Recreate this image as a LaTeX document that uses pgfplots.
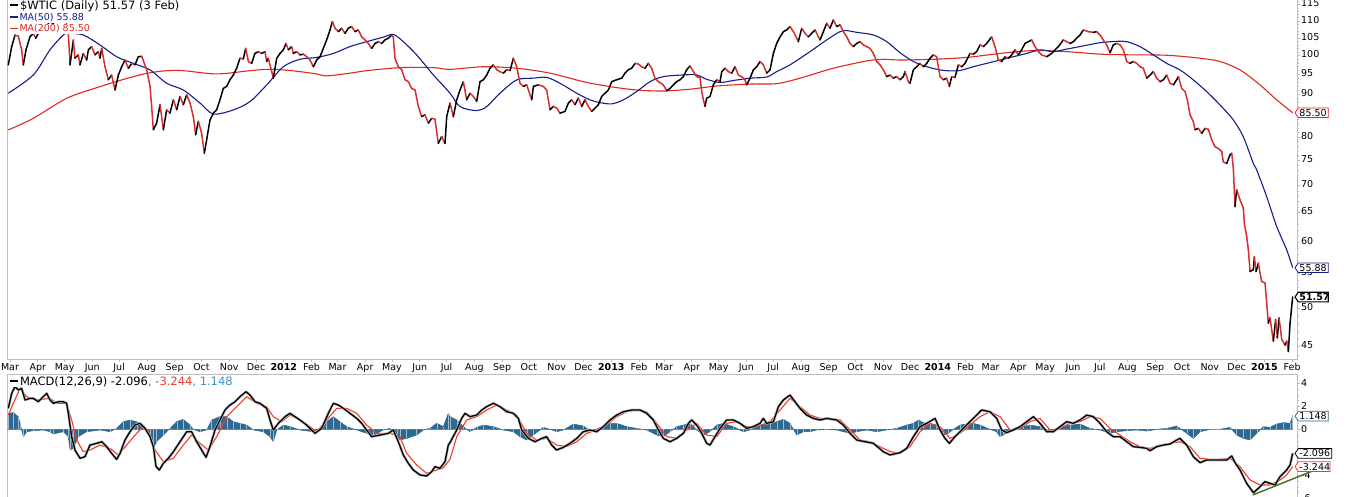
\documentclass[border=0pt]{standalone}
\usepackage{fontspec}
\setmainfont{DejaVu Sans}
\usepackage{pgfplots}
\pgfplotsset{compat=1.18}
\definecolor{pricered}{RGB}{215,45,45}
\definecolor{mared}{RGB}{225,40,30}
\definecolor{mablue}{RGB}{20,30,140}
\definecolor{sigred}{RGB}{240,60,40}
\definecolor{histblue}{RGB}{45,105,145}
\definecolor{histtext}{RGB}{60,145,200}
\definecolor{trendgreen}{RGB}{80,115,40}
\definecolor{axisgray}{RGB}{190,190,190}
\newcommand{\fa}{\fontsize{11.5}{13}\selectfont}
\newcommand{\fb}{\fontsize{9.5}{11}\selectfont}
\begin{document}
\begin{tikzpicture}
% ---------------- price panel ----------------
\begin{axis}[
  at={(7.5pt,136.7pt)}, anchor=south west, scale only axis,
  width=1290pt, height=360.3pt,
  xmin=-2.8, xmax=1439, ymode=log, ymin=43.47, ymax=116.81,
  axis line style={draw=axisgray, line width=0.8pt},
  tick align=outside, major tick length=2.5pt, minor tick length=1.3pt,
  tick style={draw=axisgray, line width=0.6pt},
  xtick pos=left, ytick pos=right, yticklabel pos=right,
  ytick={45,50,55,60,65,70,75,80,85,90,95,100,105,110,115},
  yticklabels={45,50,55,60,65,70,75,80,,90,95,100,105,110,115},
  minor ytick={44,45,...,116},
  yticklabel style={font=\fb, inner sep=1pt},
  xtick={0,31,61,92,122,153,184,214,245,275,306,337,366,397,427,458,488,519,550,580,611,641,672,703,731,762,792,823,853,884,915,945,976,1006,1037,1068,1096,1127,1157,1188,1218,1249,1280,1310,1341,1371,1402,1433},
  xticklabels={Mar,Apr,May,Jun,Jul,Aug,Sep,Oct,Nov,Dec,\textbf{2012},Feb,Mar,Apr,May,Jun,Jul,Aug,Sep,Oct,Nov,Dec,\textbf{2013},Feb,Mar,Apr,May,Jun,Jul,Aug,Sep,Oct,Nov,Dec,\textbf{2014},Feb,Mar,Apr,May,Jun,Jul,Aug,Sep,Oct,Nov,Dec,\textbf{2015},Feb},
  xticklabel style={font=\fb, inner sep=1pt},
  typeset ticklabels with strut,
  colormap={pc}{color=(pricered) color=(black)},
  point meta min=0, point meta max=1,
]
% MA(200)
\addplot[mared, line width=1.1pt, smooth] table {
-1.9 81.56
26.1 84.2
63.3 88.95
100.6 91.85
137.8 94.4
156.5 95.4
175.1 95.95
193.7 95.95
231.0 95.1
268.2 95.95
286.9 96.3
305.5 96.15
324.1 95.7
342.8 95.1
353.9 94.6
380.0 95.3
398.6 95.95
435.9 96.75
473.2 96.75
491.8 96.3
529.1 97.0
566.3 96.6
603.6 95.3
640.8 93.1
670.6 91.85
700.4 91.0
730.2 90.75
760.0 91.2
789.9 92.0
827.1 92.5
856.9 92.6
883.0 94.0
920.3 96.6
957.5 98.55
976.1 99.0
994.8 98.8
1032.0 99.0
1069.3 99.5
1106.5 100.6
1143.8 101.4
1181.0 101.1
1218.3 100.4
1255.6 100.2
1292.8 100.1
1330.1 99.3
1352.4 98.4
1374.8 96.15
1397.1 92.27
1415.8 88.56
1433.6 85.50
};
% MA(50)
\addplot[mablue, line width=1.1pt, smooth] table {
-1.9 90.2
26.1 94.84
44.7 101.6
59.6 105.83
65.2 106.3
81.9 105.83
100.6 102.97
119.2 99.7
137.8 97.9
156.5 96.15
175.1 92.7
193.7 91.0
212.4 87.8
227.3 85.2
249.6 86.16
268.2 88.15
286.9 92.27
305.5 97.0
324.1 99.0
342.8 99.5
361.4 100.6
380.0 102.5
398.6 103.9
417.3 105.2
428.4 106.0
439.6 103.9
454.5 100.2
473.2 94.84
491.8 90.2
503.0 86.95
521.6 86.0
532.8 86.95
547.7 90.2
566.3 93.55
584.9 94.0
599.8 94.2
614.7 92.7
633.4 90.2
648.3 88.56
659.5 87.9
672.5 87.6
685.5 88.56
700.4 90.6
715.3 93.1
730.2 94.4
752.6 94.84
767.5 94.84
778.7 93.7
793.6 92.9
808.5 93.4
827.1 94.0
845.8 94.3
856.9 95.7
871.8 97.5
894.2 101.1
912.8 104.4
927.7 106.8
935.2 107.1
946.3 106.6
965.0 105.83
979.9 103.9
994.8 100.8
1009.7 98.4
1024.6 97.0
1039.5 96.15
1050.6 95.9
1061.8 96.0
1076.7 97.0
1091.6 97.9
1106.5 98.8
1121.4 99.7
1136.3 100.6
1151.2 101.6
1166.1 101.1
1181.0 101.8
1199.7 102.7
1218.3 103.6
1236.9 104.0
1248.1 103.9
1263.0 102.5
1277.9 100.2
1292.8 97.9
1307.7 96.15
1322.6 93.55
1337.5 90.6
1352.4 87.35
1367.3 83.83
1378.5 80.0
1389.7 74.4
1393.4 73.09
1404.6 67.9
1415.7 62.6
1426.9 58.7
1433.6 55.88
};
% price, black on up segments, red on down segments
\addplot[mesh, shader=flat corner, line width=1.5pt, line join=round, line cap=round, point meta=\thisrow{c}] table[x=d, y=p] {
d p c
-1.9 97.5 1
1.9 102.5 1
5.6 105.8 0
9.3 105.5 0
13.0 101.6 0
14.9 97.5 1
17.9 101.6 1
22.3 105.3 1
26.1 106.3 0
28.7 104.9 1
31.7 106.3 1
36 108.0 0
40 107.0 1
44 110.0 0
48 109.0 1
52 111.5 1
56 112.0 1
59 113.9 0
62 111.0 0
65.2 106.3 0
67.1 97.5 1
70.8 104.4 0
72.6 99.3 1
76.4 100.2 0
78.2 97.5 1
82.0 100.6 0
85.7 98.8 1
87.6 101.6 1
91.3 102.5 0
95.0 100.2 1
98.7 101.1 0
100.6 99.3 1
102.5 102.0 0
106.2 97.0 0
109.9 93.6 1
113.6 94.8 0
117.4 91.0 1
121.1 94.8 1
124.8 97.0 1
128.5 98.8 0
132.3 96.6 1
136.0 97.9 0
139.7 97.5 1
143.4 99.7 1
147.2 99.8 0
152.8 96.2 0
156.5 91.9 0
158.3 87.0 0
160.2 81.6 1
163.9 83.1 1
167.7 87.4 0
171.4 81.6 1
175.1 86.2 0
178.8 85.4 1
182.6 88.6 0
186.3 86.2 1
190.0 89.4 0
193.7 87.4 1
197.5 89.8 0
201.2 87.8 0
204.9 84.6 0
207.5 80.5 1
210.5 83.5 0
214.2 80.8 0
217.2 76.5 1
219.8 79.4 1
223.5 83.8 1
227.3 85.4 1
231.0 86.2 1
234.7 88.6 1
238.4 91.4 1
242.2 91.9 1
245.9 93.6 1
249.6 94.8 1
253.3 96.6 1
257.1 99.3 0
260.8 99.1 1
263.4 102.0 0
266.4 98.4 0
270.1 97.9 1
273.8 100.6 1
277.6 101.1 0
281.3 100.6 1
285.0 101.1 0
286.9 98.4 1
288.7 99.3 0
292.5 95.7 0
294.3 94.0 1
298.1 99.3 1
301.8 100.6 1
305.5 101.6 1
308.5 103.4 0
311.1 101.6 1
314.8 102.5 0
316.7 100.6 1
320.4 101.1 0
324.1 100.2 1
327.9 100.4 0
331.6 99.7 0
335.3 98.8 0
339.0 97.0 1
342.8 98.8 1
346.5 99.7 1
350.2 102.0 1
353.9 104.4 1
357.7 107.3 1
360.3 109.8 0
363.3 107.8 0
367.0 106.8 1
370.7 107.8 0
374.4 106.3 1
378.2 107.8 1
381.9 108.3 0
385.6 106.8 1
389.3 107.3 0
393.1 105.3 0
396.8 104.4 0
400.5 103.4 0
404.2 102.0 1
408.0 103.4 1
411.7 103.9 0
415.4 103.4 1
419.1 104.4 1
422.9 104.9 1
426.6 105.8 0
428.4 105.3 0
430.3 99.3 0
434.0 97.0 0
437.8 96.2 0
441.5 93.6 0
445.2 93.1 0
448.9 91.4 0
452.7 91.0 0
456.4 87.0 0
460.1 84.6 1
463.8 85.0 0
467.6 83.1 1
471.3 84.2 0
475.0 84.0 0
478.7 78.6 1
482.5 80.1 0
486.2 78.6 1
488.1 84.6 1
491.8 87.8 0
495.5 84.6 1
499.3 88.6 1
503.0 91.0 1
506.7 93.1 0
510.4 88.6 1
514.2 90.2 0
517.9 89.4 0
521.6 88.2 1
525.3 93.1 1
529.1 93.6 1
532.8 94.8 1
536.5 96.6 1
540.2 97.5 0
544.0 96.2 0
547.7 95.7 0
551.4 95.3 1
555.1 96.2 0
558.9 96.0 1
562.6 99.3 0
566.3 97.0 0
570.0 92.7 0
573.8 91.9 1
577.5 92.3 0
583.1 88.6 1
585.0 91.9 1
590.5 92.3 0
596.1 91.9 0
599.8 91.0 0
603.6 86.2 1
607.3 87.0 0
611.0 86.6 0
614.7 85.4 1
620.3 85.8 1
624.1 87.8 1
627.8 88.6 0
631.5 87.4 1
635.2 89.0 0
639.0 87.0 1
642.7 88.6 0
646.4 87.0 0
650.1 85.8 1
653.9 86.6 1
657.6 87.4 1
661.3 89.4 1
665.0 90.2 1
668.8 91.0 1
672.5 93.1 1
678.1 93.6 1
683.7 94.0 1
687.4 95.3 1
691.1 96.2 1
694.9 96.6 1
698.6 97.9 0
702.3 97.7 0
706.0 97.0 0
709.8 96.6 1
713.5 97.9 0
717.2 96.6 0
720.9 94.0 0
724.7 93.1 0
730.2 92.3 0
734.0 90.8 1
737.7 91.4 1
741.4 92.3 1
745.1 93.1 1
748.9 93.6 1
752.6 94.4 1
756.3 96.2 1
760.0 97.2 0
763.8 95.7 0
767.5 94.4 0
771.2 94.2 0
773.1 90.6 0
775.0 88.6 0
776.8 87.0 1
778.7 89.0 1
782.4 89.4 1
786.1 92.3 1
789.9 93.6 0
793.6 93.1 1
795.5 95.7 1
799.2 96.6 0
802.9 95.7 0
806.6 95.3 1
810.4 97.0 0
814.1 94.8 0
817.8 94.4 0
821.5 93.6 0
823.4 92.3 1
827.1 94.0 1
830.9 96.2 1
834.6 97.0 1
838.3 98.4 0
842.0 97.5 0
845.8 95.3 1
849.5 96.2 1
853.2 100.6 1
856.9 103.4 1
860.7 105.3 1
864.4 106.8 1
868.1 107.3 1
871.8 108.3 0
875.6 106.8 0
879.3 104.9 0
881.1 103.9 1
884.9 107.8 0
888.6 106.3 0
892.3 105.3 1
896.0 106.3 1
899.8 107.3 0
903.5 105.3 0
905.4 104.4 1
909.1 106.8 1
912.8 109.3 0
916.5 107.8 1
920.3 110.3 0
924.0 108.3 1
927.7 108.8 0
931.4 106.8 0
935.2 105.3 0
938.9 103.4 0
942.6 102.5 1
946.3 103.4 1
950.1 103.9 0
953.8 103.0 0
957.5 102.5 0
961.2 102.0 0
965.0 100.6 0
968.7 98.4 0
972.4 97.5 0
976.1 96.2 0
979.9 94.4 1
983.6 94.8 0
987.3 94.0 1
991.0 94.4 0
994.8 93.6 1
998.5 94.4 1
1000.3 95.7 0
1004.1 93.1 0
1005.9 92.7 1
1009.7 96.2 1
1013.4 97.0 1
1017.1 97.9 0
1020.8 97.0 1
1024.6 97.9 1
1028.3 99.3 1
1032.0 100.2 0
1035.7 99.7 0
1039.5 94.4 0
1043.2 93.6 1
1046.9 94.0 0
1049.9 91.9 1
1052.5 94.4 0
1056.2 94.2 1
1060.0 97.5 0
1063.7 97.0 1
1067.4 97.9 1
1073.0 100.6 0
1076.7 100.4 1
1080.4 101.1 1
1084.2 103.0 0
1087.9 102.5 1
1091.6 103.4 1
1097.2 105.3 0
1100.9 102.5 0
1104.7 98.8 0
1108.4 98.4 1
1112.1 99.7 0
1115.8 99.3 1
1119.6 100.2 1
1123.3 101.6 0
1127.0 100.2 1
1130.7 101.6 1
1134.5 103.4 1
1138.2 103.9 1
1141.9 104.4 0
1145.6 102.5 0
1149.4 101.1 0
1153.1 100.2 0
1158.7 99.7 1
1164.3 100.6 1
1168.0 101.6 1
1171.7 102.5 1
1177.3 104.4 0
1181.0 103.9 0
1184.8 103.4 1
1188.5 103.9 1
1192.2 104.9 1
1195.9 105.8 1
1199.7 107.3 0
1205.3 106.8 0
1210.8 106.6 1
1214.6 106.8 0
1218.3 105.8 0
1222.0 104.4 0
1225.7 103.0 0
1229.5 100.8 1
1233.2 103.0 1
1236.9 103.4 0
1240.7 103.0 0
1244.4 101.6 0
1248.1 98.4 0
1251.8 97.9 1
1255.6 98.4 0
1259.3 97.9 0
1263.0 97.0 0
1266.7 96.6 0
1270.5 94.0 1
1274.2 94.8 1
1277.9 95.7 0
1281.6 94.0 0
1285.4 93.1 1
1289.1 93.6 1
1292.8 94.8 0
1296.5 92.7 0
1300.3 92.3 1
1304.0 93.6 1
1305.9 94.4 0
1309.6 91.4 0
1313.3 90.6 0
1315.9 88.6 0
1318.9 85.0 0
1322.6 83.4 0
1324.5 81.6 1
1328.2 81.9 0
1332.0 80.8 1
1335.7 81.9 0
1339.4 81.7 0
1343.1 79.4 0
1346.8 77.9 0
1350.6 77.5 0
1354.3 76.9 0
1356.1 74.7 0
1359.9 74.4 1
1363.6 76.2 1
1365.5 76.5 0
1367.3 73.4 0
1369.2 66.1 1
1371.0 69.2 0
1374.8 67.3 0
1378.5 65.8 0
1379.6 63.1 0
1382.2 60.9 0
1384.1 58.7 0
1386.0 55.3 1
1389.7 55.6 1
1390.8 57.6 0
1392.7 55.3 1
1395.3 56.6 0
1397.1 55.1 0
1399.0 53.8 0
1402.7 53.6 0
1404.6 50.7 0
1406.4 48.0 1
1408.3 48.7 0
1410.2 47.1 0
1412.0 45.7 1
1414.6 48.5 0
1416.5 46.1 1
1418.4 48.7 0
1421.4 45.9 0
1425.1 45.2 1
1427.0 45.7 0
1428.8 44.4 1
1430.7 48.0 1
1433.6 51.57 0
};
\coordinate (tagA) at (axis cs:1436.2,85.50);
\coordinate (tagB) at (axis cs:1436.2,55.88);
\coordinate (tagC) at (axis cs:1436.2,51.57);
\end{axis}
% ---------------- MACD panel ----------------
\pgfplotstableread{
-2.8 1.39
-1.9 1.39
3.7 1.45
9.3 1.10
11.2 0.52
14.9 -0.64
18.6 -0.21
26.1 -0.12
37.3 -0.06
44.7 -0.21
48.4 -0.41
59.6 -0.21
65.2 -0.64
67.1 -1.80
70.8 -1.66
76.4 -0.64
85.7 -0.21
100.6 -0.06
111.8 -0.21
119.2 0.08
126.7 0.66
134.1 0.81
141.6 0.66
149.0 0.37
156.5 -0.50
160.2 -1.66
163.9 -1.08
171.4 -0.50
178.8 0.08
186.3 0.66
193.7 0.87
201.2 0.37
204.9 0.0
212.4 -0.21
219.8 -0.06
225.4 0.81
234.7 1.10
242.2 1.10
249.6 0.66
257.1 0.52
264.5 0.37
272.0 -0.06
283.1 -0.21
290.6 -0.64
294.3 -1.08
298.1 -0.06
305.5 0.37
313.0 0.23
324.1 -0.06
339.0 -0.21
346.5 0.08
353.9 0.66
361.4 1.10
368.8 0.66
376.3 0.23
387.5 -0.06
398.6 -0.35
406.1 -0.50
417.3 -0.06
424.7 0.08
432.2 -0.50
435.9 -0.93
443.3 -0.79
454.5 -0.50
462.0 -0.06
469.4 0.08
476.9 0.52
484.3 0.23
489.9 1.39
491.8 1.10
499.3 0.81
506.7 0.23
514.2 -0.21
521.6 0.17
529.1 0.37
540.2 0.23
551.4 -0.06
562.6 -0.21
570.0 -0.64
577.5 -0.93
584.9 -0.50
596.1 0.17
603.6 0.0
611.0 -0.21
618.5 -0.06
629.7 0.46
640.8 0.29
648.3 -0.12
655.7 0.0
663.2 0.29
670.6 0.52
678.1 0.52
689.3 0.23
700.4 0.08
711.6 -0.06
722.8 -0.50
730.2 -0.64
737.7 -0.21
745.1 0.23
752.6 0.37
760.0 0.52
767.5 -0.06
775.0 -0.50
782.4 -0.21
789.9 0.37
797.3 0.52
808.5 0.23
819.7 -0.21
827.1 -0.06
838.3 0.37
849.5 0.46
856.9 0.66
864.4 0.87
871.8 0.52
879.3 -0.50
886.7 -0.21
894.2 -0.21
901.6 -0.06
912.8 0.0
924.0 -0.06
938.9 -0.35
946.3 -0.21
957.5 -0.06
968.7 -0.21
979.9 -0.06
991.0 0.08
1002.2 0.37
1009.7 0.52
1015.2 0.81
1020.8 0.58
1028.3 0.46
1035.7 0.37
1039.5 0.0
1043.2 -0.50
1048.8 -0.35
1054.4 0.0
1061.8 0.37
1069.3 0.46
1076.7 0.52
1084.2 0.37
1095.3 0.0
1102.8 -0.21
1106.5 -0.64
1110.3 -0.50
1117.7 -0.06
1125.2 0.17
1132.6 0.23
1140.0 0.37
1151.2 0.23
1158.7 -0.21
1166.1 -0.21
1173.6 0.17
1184.8 0.37
1196.0 0.46
1207.1 0.08
1218.3 -0.06
1229.5 -0.35
1236.9 -0.21
1248.1 -0.12
1259.3 -0.06
1270.5 -0.15
1281.6 0.0
1292.8 0.08
1304.0 0.29
1315.2 -0.35
1322.6 -0.79
1330.1 -0.21
1341.2 0.0
1352.4 0.0
1363.6 0.17
1371.0 -0.50
1378.5 -0.79
1386.0 -0.93
1393.4 -0.35
1400.8 0.23
1408.3 0.17
1415.7 0.46
1423.2 0.58
1430.7 0.52
1433.6 1.148
}\histtab
\begin{axis}[
  at={(7.5pt,-4.6pt)}, anchor=south west, scale only axis,
  width=1290pt, height=126.3pt,
  xmin=-2.8, xmax=1439, ymin=-6.2, ymax=4.783,
  clip=false,
  axis line style={draw=axisgray, line width=0.8pt},
  tick align=outside, major tick length=2.5pt, minor tick length=1.3pt,
  tick style={draw=axisgray, line width=0.6pt},
  xtick=\empty, ytick pos=right, yticklabel pos=right,
  ytick={-6,-4,-2,0,2,4}, yticklabels={-6,-4,,0,2,4},
  minor y tick num=3,
  yticklabel style={font=\fb, inner sep=1pt},
]
% histogram
\addplot[fill=histblue, draw=histblue, line width=0.5pt] table {\histtab} \closedcycle;
\addplot[ycomb, draw=histblue!45!white, line width=0.35pt] table {\histtab};
% signal line
\addplot[sigred, line width=1.1pt] table {
-1.9 1.24
3.7 2.26
11.2 3.56
18.6 2.84
29.8 2.55
44.7 2.69
52.2 2.26
63.3 2.26
68.9 0.81
74.5 -0.93
81.9 -1.94
89.4 -1.80
100.6 -1.37
111.8 -1.66
121.1 -2.23
130.4 -1.37
141.6 -0.35
149.0 0.23
154.6 -0.06
162.1 -1.80
171.4 -2.81
182.6 -2.52
193.7 -1.37
203.0 -0.50
212.4 -1.22
221.7 -1.80
231.0 -0.64
242.2 1.10
253.3 1.97
264.5 2.84
275.7 2.26
286.9 1.97
294.3 1.10
303.6 0.66
313.0 1.24
324.1 0.81
335.3 0.23
342.8 -0.21
353.9 0.81
365.1 1.82
376.3 1.82
387.5 1.39
398.6 0.37
409.8 -0.35
424.7 -0.35
435.9 -0.64
443.3 -2.09
454.5 -3.10
465.7 -3.83
476.9 -3.54
484.3 -3.35
491.8 -2.60
499.3 -0.64
510.4 0.81
521.6 1.10
532.8 1.68
544.0 2.11
555.1 1.68
566.3 1.24
577.5 -0.35
588.7 -0.93
599.8 -0.79
611.0 -1.37
622.2 -1.51
633.4 -1.08
644.6 -0.35
655.7 -0.06
666.9 0.37
678.1 1.10
689.3 1.53
700.4 1.68
711.6 1.53
722.8 0.52
734.0 -0.64
745.1 -0.79
756.3 -0.06
767.5 0.52
778.7 -0.50
789.9 -0.64
801.0 0.52
812.2 0.66
823.4 0.23
834.6 0.23
849.5 0.66
860.7 1.68
871.8 2.69
883.0 1.97
894.2 1.24
905.4 0.95
916.5 0.95
927.7 0.81
938.9 -0.06
950.1 -0.93
961.2 -1.08
972.4 -1.51
983.6 -1.94
994.8 -2.09
1005.9 -1.51
1017.1 -0.21
1028.3 0.52
1039.5 0.23
1050.6 -0.79
1061.8 -0.35
1073.0 0.37
1084.2 1.10
1095.3 1.53
1106.5 1.10
1117.7 -0.06
1128.9 0.08
1140.0 0.66
1151.2 0.95
1162.4 -0.06
1173.6 0.08
1184.8 0.52
1196.0 0.66
1207.1 1.10
1218.3 0.95
1229.5 0.08
1240.7 -0.50
1251.8 -1.08
1263.0 -1.51
1274.2 -1.66
1285.4 -1.37
1296.5 -1.22
1307.7 -1.08
1318.9 -1.51
1330.1 -2.52
1341.2 -2.61
1352.4 -2.61
1363.6 -2.52
1374.8 -3.25
1386.0 -4.41
1397.1 -4.84
1408.3 -4.84
1419.5 -4.41
1426.9 -3.97
1433.6 -3.244
};
% MACD line with grey halo
\pgfplotstableread{
-1.9 1.82
1.9 3.13
5.6 3.71
9.3 3.42
13.0 3.56
16.8 2.55
22.3 2.69
26.1 2.69
31.7 2.40
37.3 2.84
41.0 3.13
44.7 2.55
48.4 2.26
54.0 2.40
59.6 2.40
63.3 2.26
65.2 1.39
68.9 -0.64
72.6 -1.80
78.2 -2.52
83.8 -2.38
89.4 -1.37
96.9 -1.22
102.5 -1.08
108.0 -1.51
113.6 -2.09
119.2 -2.61
123.0 -2.09
128.5 -0.93
134.1 -0.21
139.7 0.37
145.3 0.52
150.9 0.08
156.5 -0.64
160.2 -1.51
163.2 -3.24
166.9 -3.54
171.4 -2.96
177.0 -2.52
182.6 -1.95
190.0 -1.08
197.5 -0.21
203.0 -0.21
208.6 -1.08
214.2 -1.80
219.1 -2.44
223.5 -1.51
229.1 -0.06
234.7 0.81
240.3 1.68
245.9 2.11
251.5 2.40
257.1 2.84
263.8 3.27
268.2 2.98
273.8 2.40
279.4 2.26
286.9 1.82
290.6 0.81
294.3 -0.06
299.9 0.52
307.4 1.10
313.0 1.39
318.5 1.10
324.1 0.81
331.6 0.37
340.9 -0.35
348.3 0.08
355.8 1.39
361.4 2.26
367.0 2.11
372.6 1.82
380.0 1.39
387.5 0.95
393.1 0.52
398.6 -0.06
404.2 -0.64
413.6 -0.50
422.9 -0.35
428.4 -0.06
434.0 -1.08
439.6 -2.23
445.2 -2.96
450.8 -3.54
458.3 -3.97
465.7 -4.06
471.3 -3.68
475.0 -3.25
480.6 -3.39
486.2 -2.81
489.9 -1.37
491.8 -1.15
499.3 -0.06
504.8 0.95
508.6 1.39
514.2 1.10
521.6 1.24
527.2 1.68
532.8 1.97
540.2 2.26
547.7 1.97
555.1 1.53
562.6 1.39
568.2 0.95
571.9 -0.06
579.4 -0.79
586.8 -1.08
594.3 -0.79
599.8 -0.64
605.4 -1.37
611.0 -1.80
618.5 -1.57
625.9 -1.22
633.4 -0.79
640.8 -0.21
648.3 -0.06
655.7 -0.21
663.2 0.23
670.6 0.81
678.1 1.24
685.5 1.53
694.9 1.68
704.2 1.68
711.6 1.39
719.1 0.81
724.7 -0.06
730.2 -0.79
737.7 -1.08
745.1 -0.79
752.6 -0.35
758.2 0.52
761.9 0.81
767.5 0.37
773.1 -0.35
778.7 -1.22
782.4 -1.37
788.0 -0.64
793.6 0.08
801.0 0.81
808.5 0.81
815.9 0.52
823.4 0.08
830.8 0.23
838.3 0.52
842.0 0.95
845.7 0.52
853.2 0.66
858.8 1.97
864.4 2.55
871.8 2.98
877.4 2.40
883.0 1.82
890.4 1.24
897.9 0.95
905.4 0.81
912.8 0.95
924.0 0.81
931.4 0.37
938.9 -0.35
946.3 -0.93
955.7 -1.08
965.0 -1.22
976.1 -1.95
983.6 -2.23
994.8 -2.03
1002.2 -1.66
1009.7 -0.64
1017.1 0.23
1024.6 0.52
1033.9 0.95
1039.5 -0.06
1045.0 -0.79
1049.9 -1.22
1056.2 -0.64
1063.7 -0.06
1071.1 0.52
1078.6 1.10
1086.0 1.68
1095.3 1.53
1102.8 0.95
1108.4 -0.06
1114.0 -0.29
1121.4 -0.06
1128.9 0.23
1136.3 0.66
1143.8 1.10
1151.2 0.52
1158.7 -0.21
1166.1 -0.21
1173.6 0.23
1181.0 0.66
1188.5 0.52
1196.0 0.81
1203.4 1.24
1210.8 1.10
1218.3 0.52
1225.7 -0.21
1233.2 -0.64
1240.7 -0.64
1248.1 -1.08
1255.6 -1.51
1263.0 -1.57
1270.5 -1.66
1274.2 -1.86
1281.6 -1.51
1289.1 -1.37
1296.5 -1.28
1304.0 -0.93
1307.7 -0.79
1315.2 -1.37
1322.6 -2.38
1330.1 -2.90
1337.5 -2.67
1345.0 -2.67
1352.4 -2.67
1359.9 -2.67
1365.5 -2.32
1369.2 -2.90
1374.8 -3.54
1382.2 -4.70
1389.7 -5.51
1395.3 -5.13
1402.7 -4.55
1408.3 -4.70
1413.9 -4.84
1419.5 -4.12
1426.9 -3.54
1430.7 -3.10
1433.6 -2.096
}\macdtab
\addplot[black!28, line width=2.6pt, line join=round] table {\macdtab};
\addplot[black, line width=1.3pt, line join=round] table {\macdtab};
% trend line
\addplot[trendgreen, line width=1.5pt] coordinates {(1389,-5.71) (1458.6,-3.54)};
\coordinate (tagD) at (axis cs:1436.2,1.148);
\coordinate (tagE) at (axis cs:1436.2,-2.096);
\coordinate (tagF) at (axis cs:1436.2,-3.244);
\end{axis}
% ---------------- value tags ----------------
\draw[mared, line width=0.8pt, fill=white] (tagA) -- ++(3.3pt,4.8pt) -- ++(30pt,0) -- ++(0,-9.6pt) -- ++(-30pt,0) -- cycle;
\node[anchor=west, inner sep=0pt, font=\fb] at ([xshift=4.3pt]tagA) {85.50};
\draw[mablue, line width=0.8pt, fill=white] (tagB) -- ++(3.3pt,4.8pt) -- ++(30pt,0) -- ++(0,-9.6pt) -- ++(-30pt,0) -- cycle;
\node[anchor=west, inner sep=0pt, font=\fb] at ([xshift=4.3pt]tagB) {55.88};
\draw[black, line width=1.1pt, fill=white] (tagC) -- ++(3.3pt,4.8pt) -- ++(30pt,0) -- ++(0,-9.6pt) -- ++(-30pt,0) -- cycle;
\node[anchor=west, inner sep=0pt, font=\fb\bfseries] at ([xshift=4.3pt]tagC) {51.57};
\draw[histtext!70!black, line width=0.8pt, fill=white] (tagD) -- ++(3.3pt,4.8pt) -- ++(30pt,0) -- ++(0,-9.6pt) -- ++(-30pt,0) -- cycle;
\node[anchor=west, inner sep=0pt, font=\fb] at ([xshift=4.3pt]tagD) {1.148};
\draw[black, line width=0.8pt, fill=white] (tagE) -- ++(3.3pt,4.8pt) -- ++(33.4pt,0) -- ++(0,-9.6pt) -- ++(-33.4pt,0) -- cycle;
\node[anchor=west, inner sep=0pt, font=\fb] at ([xshift=4.3pt]tagE) {-2.096};
\draw[sigred, line width=0.8pt, fill=white] (tagF) -- ++(3.3pt,4.8pt) -- ++(31.7pt,0) -- ++(0,-9.6pt) -- ++(-31.7pt,0) -- cycle;
\node[anchor=west, inner sep=0pt, font=\fb] at ([xshift=4.3pt]tagF) {-3.244};
% ---------------- legends ----------------
\node[anchor=west, fill=white, inner sep=0.8pt, font=\fa] at (9pt,490pt)
  {\textcolor{black}{\rule[0.28em]{8pt}{1.6pt}}\hspace{2pt}\$WTIC (Daily) 51.57 (3 Feb)};
\node[anchor=west, fill=white, inner sep=0.8pt, font=\fb, text=mablue] at (9pt,478.5pt)
  {\rule[0.28em]{8pt}{1.6pt}\hspace{1.5pt}MA(50) 55.88};
\node[anchor=west, fill=white, inner sep=0.8pt, font=\fb, text=mared] at (9pt,467pt)
  {\rule[0.28em]{8pt}{1.6pt}\hspace{1.5pt}MA(200) 85.50};
\node[anchor=west, fill=white, inner sep=0.8pt, font=\fa] at (9pt,114.5pt)
  {\rule[0.28em]{8pt}{1.6pt}\hspace{2pt}MACD(12,26,9) -2.096\textcolor{sigred}{, -3.244}\textcolor{histtext}{, 1.148}};
\pgfresetboundingbox
\useasboundingbox (0,0) rectangle (1362pt,496pt);
\end{tikzpicture}
\end{document}
